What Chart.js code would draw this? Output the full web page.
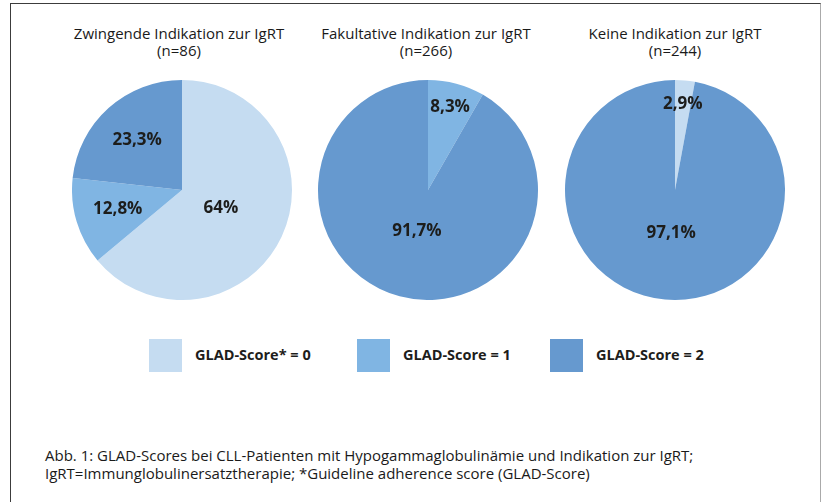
<!DOCTYPE html>
<html>
<head>
<meta charset="utf-8">
<script src="https://cdn.jsdelivr.net/npm/chart.js@4/dist/chart.umd.min.js"></script>
<style>
  body { margin: 0; width: 822px; height: 502px; background: #fff; position: relative; overflow: hidden;
         font-family: "Open Sans", sans-serif; color: #1d1d1b; }
  .frame { position: absolute; left: 10px; top: 3px; width: 809px; height: 520px;
           border-top: 1.5px solid #3c3c3c; border-left: 1.5px solid #3c3c3c; border-right: 1px solid #aaa; }
  .titel { position: absolute; width: 300px; text-align: center; font-size: 15px; line-height: 17px; top: 25px; color: #1a1a1a; }
  .pie { position: absolute; top: 80px; width: 220px; height: 220px; }
  .leg-box { position: absolute; top: 339px; width: 33px; height: 33px; }
  .leg-text { position: absolute; top: 345px; font-size: 14.5px; font-weight: bold; line-height: 20px; }
  .caption { position: absolute; left: 45px; top: 446px; font-size: 15px; line-height: 18px; color: #1a1a1a; }
</style>
</head>
<body>
<div class="frame"></div>
<div id="titles"></div>
<canvas id="pie1" class="pie" width="220" height="220" style="left:72px"></canvas>
<canvas id="pie2" class="pie" width="220" height="220" style="left:318px"></canvas>
<canvas id="pie3" class="pie" width="220" height="220" style="left:565px"></canvas>
<div id="legende"></div>
<div class="caption">Abb. 1: GLAD-Scores bei CLL-Patienten mit Hypogammaglobulinämie und Indikation zur IgRT;<br>IgRT=Immunglobulinersatztherapie; *Guideline adherence score (GLAD-Score)</div>

<script>
// Daten aus der Abbildung
const kategorien = ["GLAD-Score* = 0", "GLAD-Score = 1", "GLAD-Score = 2"];
const gruppen = ["Zwingende Indikation zur IgRT", "Fakultative Indikation zur IgRT", "Keine Indikation zur IgRT"];
const gruppenN = [86, 266, 244];
const zwingend = [64, 12.8, 23.3];
const fakultativ = [0, 8.3, 91.7];
const keine = [2.9, 0, 97.1];

const farben = ["#c5dcf1", "#80b5e3", "#6699cf"];
const zentrenX = [179, 426, 675];

// Titel ueber den Kreisen
const titles = document.getElementById("titles");
gruppen.forEach((g, i) => {
  let d = document.createElement("div");
  d.className = "titel";
  d.style.left = (zentrenX[i] - 150) + "px";
  d.innerHTML = g + "<br>(n=" + gruppenN[i] + ")";
  titles.appendChild(d);
});

// Legende
const legX = [149, 357, 550];
const legende = document.getElementById("legende");
kategorien.forEach((k, i) => {
  let box = document.createElement("div");
  box.className = "leg-box";
  box.style.left = legX[i] + "px";
  box.style.background = farben[i];
  legende.appendChild(box);
  let t = document.createElement("div");
  t.className = "leg-text";
  t.style.left = (legX[i] + 46) + "px";
  t.textContent = k;
  legende.appendChild(t);
});

// Prozentwerte in die Segmente schreiben
const prozentLabels = {
  id: "prozentLabels",
  afterDatasetsDraw(chart) {
    const ctx = chart.ctx;
    const werte = chart.data.datasets[0].data;
    ctx.save();
    ctx.font = "bold 17px 'Open Sans', sans-serif";
    ctx.fillStyle = "#1d1d1b";
    ctx.textAlign = "center";
    ctx.textBaseline = "middle";
    chart.getDatasetMeta(0).data.forEach((arc, i) => {
      const v = werte[i];
      if (!v) return;
      const p = arc.getProps(["x", "y", "startAngle", "endAngle", "outerRadius"], true);
      const mitte = (p.startAngle + p.endAngle) / 2;
      const f = v > 50 ? 0.39 : v < 10 ? 0.78 : 0.61;
      const txt = v.toLocaleString("de-DE") + "%";
      ctx.fillText(txt, p.x + Math.cos(mitte) * p.outerRadius * f, p.y + Math.sin(mitte) * p.outerRadius * f);
    });
    ctx.restore();
  }
};

function kreis(id, werte) {
  let ctx = document.getElementById(id).getContext("2d");
  return new Chart(ctx, {
    type: "pie",
    data: {
      labels: kategorien,
      datasets: [{ data: werte, backgroundColor: farben, borderWidth: 0 }]
    },
    options: {
      responsive: false,
      animation: false,
      layout: { padding: 0 },
      plugins: { legend: { display: false }, tooltip: { enabled: false } }
    },
    plugins: [prozentLabels]
  });
}

kreis("pie1", zwingend);
kreis("pie2", fakultativ);
kreis("pie3", keine);
</script>
</body>
</html>
